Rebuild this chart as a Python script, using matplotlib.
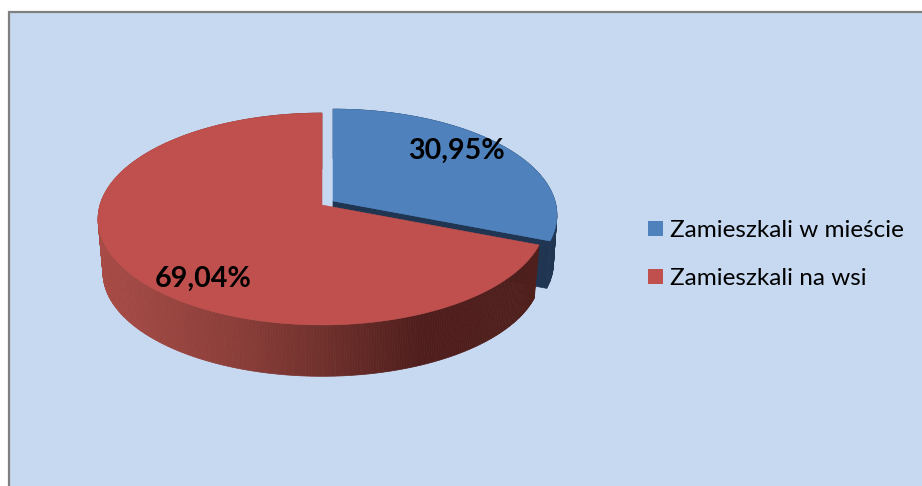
import numpy as np
import matplotlib
matplotlib.use("Agg")
import matplotlib.pyplot as plt
from matplotlib.collections import PolyCollection
from matplotlib.patches import Patch, Polygon

categories = ["Zamieszkali w mieście", "Zamieszkali na wsi"]
shares = [30.95, 69.04]
value_labels = ["30,95%", "69,04%"]

BG = "#C6D9F1"
BLUE = "#4F81BD"
BLUE_SIDE = "#1F3552"
RED = "#C0504D"
FONT = "Lato"

W, H = 922, 486
fig = plt.figure(figsize=(W / 100, H / 100), dpi=100, facecolor="white")
ax = fig.add_axes([0, 0, 1, 1])
ax.set_xlim(0, W)
ax.set_ylim(H, 0)
ax.axis("off")

# chart area
ax.add_patch(plt.Rectangle((9, 12.5), W, H, fc=BG, ec="#808080", lw=1.6, zorder=0))


def project(t, cx, cy, scale=1.0, R=222.0, Hz=104.1, k=0.132):
    """Perspective view of a point on the pie rim, t clockwise from 12 o'clock."""
    u, v = np.sin(t), np.cos(t)
    w = 1 + k * v
    return cx + scale * R * u / w, cy - scale * Hz * v / w


def rim_quads(x, y, x2, y2):
    return [[(x[i], y[i]), (x[i + 1], y[i + 1]), (x2[i + 1], y2[i + 1]), (x2[i], y2[i])]
            for i in range(len(x) - 1)]


total = sum(shares)
split = 2 * np.pi * shares[0] / total
t_blue = np.linspace(0, split, 120)
t_red = np.linspace(split, 2 * np.pi, 400)

# ---- exploded blue slice
bcx, bcy, bdepth, bscale = 333, 201, 48, 0.985
bx, by = project(t_blue, bcx, bcy)
bx2, by2 = project(t_blue, bcx, bcy + bdepth, bscale)
ax.add_collection(PolyCollection(rim_quads(bx, by, bx2, by2), facecolors=BLUE_SIDE,
                                 edgecolors=BLUE_SIDE, linewidths=0.4, zorder=2))
ax.add_patch(Polygon([(bcx, bcy), (bx[-1], by[-1]), (bx2[-1], by2[-1]), (bcx, bcy + bdepth)],
                     fc=BLUE_SIDE, ec=BLUE_SIDE, lw=0.5, zorder=2))
ax.add_patch(Polygon(np.c_[np.r_[bcx, bx], np.r_[bcy, by]], fc=BLUE, ec=BLUE, lw=0.4, zorder=3))

# ---- red slice
rcx, rcy, rdepth, rscale = 322, 205, 54, 0.978
rx, ry = project(t_red, rcx, rcy)
rx2, ry2 = project(t_red, rcx, rcy + rdepth, rscale)
stops_x = np.array([98, 240, 322, 420, 545])
stops_c = np.array([[0xA8, 0x4B, 0x46], [0x8A, 0x3D, 0x38], [0x70, 0x30, 0x2C],
                    [0x4F, 0x1E, 0x1C], [0x4F, 0x1F, 0x1C]]) / 255
mid_x = (rx[:-1] + rx[1:]) / 2
cols = np.stack([np.interp(mid_x, stops_x, stops_c[:, i]) for i in range(3)], axis=-1)
ax.add_collection(PolyCollection(rim_quads(rx, ry, rx2, ry2), facecolors=cols,
                                 edgecolors=cols, linewidths=0.5, zorder=4))
ax.add_patch(Polygon(np.c_[np.r_[rcx, rx], np.r_[rcy, ry]], fc=RED, ec=RED, lw=0.4, zorder=5))

# ---- value labels
ax.text(456, 150.5, value_labels[0], ha="center", va="center", fontsize=20.6,
        fontweight="bold", family=FONT, color="black", zorder=6)
ax.text(203, 279, value_labels[1], ha="center", va="center", fontsize=20.6,
        fontweight="bold", family=FONT, color="black", zorder=6)

# ---- legend
handles = [Patch(fc=BLUE, ec="none"), Patch(fc=RED, ec="none")]
ax.legend(handles, categories, loc="center left", bbox_to_anchor=(648 / W, 1 - 254.5 / H),
          frameon=False, handlelength=0.62, handleheight=0.62,
          handletextpad=0.29, labelspacing=1.11, borderpad=0, borderaxespad=0,
          prop={"family": FONT, "size": 17.5})

fig.savefig("out.png", dpi=100, facecolor="white")
